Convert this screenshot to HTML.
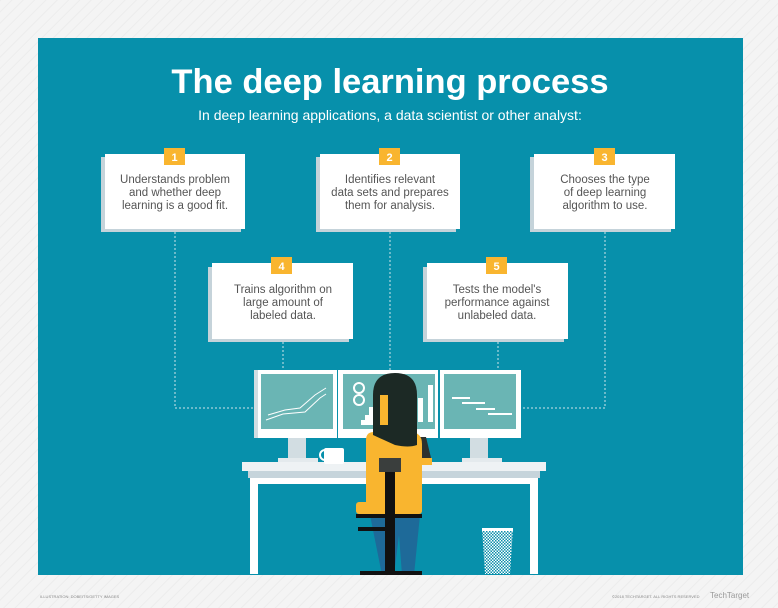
<!DOCTYPE html>
<html><head><style>
html,body{margin:0;padding:0;background:#f4f4f4;}
svg{display:block}
</style></head><body>
<svg width="778" height="608" viewBox="0 0 778 608" xmlns="http://www.w3.org/2000/svg" font-family="Liberation Sans, sans-serif">
<defs>
<pattern id="hat" width="8" height="8" patternUnits="userSpaceOnUse" patternTransform="rotate(45)">
<rect width="8" height="8" fill="#f4f4f4"/><rect width="1" height="8" fill="#ececec"/></pattern>
<pattern id="mesh" width="3" height="3" patternUnits="userSpaceOnUse"><rect width="3" height="3" fill="#fff"/><rect width="1.5" height="1.5" fill="#0b8fab"/><rect x="1.5" y="1.5" width="1.5" height="1.5" fill="#0b8fab"/></pattern>
</defs>
<rect width="778" height="608" fill="url(#hat)"/>
<rect x="38" y="38" width="705" height="537" fill="#0790ab"/>
<text x="390" y="93" text-anchor="middle" fill="#fff" font-size="34.5" font-weight="bold">The deep learning process</text>
<text x="390" y="120" text-anchor="middle" fill="#fff" font-size="14">In deep learning applications, a data scientist or other analyst:</text>

<g stroke="#cfe3ea" stroke-width="1" stroke-dasharray="2,2" fill="none">
<path d="M175 232V408H254"/>
<path d="M605 232V408H521"/>
<path d="M390 232V370"/>
<path d="M283 342V370"/>
<path d="M498 342V370"/>
</g>

<g font-size="11.5" fill="#555" text-anchor="middle">
<g>
<rect x="101" y="157" width="140" height="75" fill="#c5d3da"/><rect x="105" y="154" width="140" height="75" fill="#fff"/>
<rect x="164" y="148" width="21" height="17" fill="#f9b52f"/><text x="174.5" y="161" fill="#fff" font-size="11" font-weight="bold">1</text>
<text x="175" y="183">Understands problem</text><text x="175" y="196">and whether deep</text><text x="175" y="209">learning is a good fit.</text>
</g>
<g>
<rect x="316" y="157" width="140" height="75" fill="#c5d3da"/><rect x="320" y="154" width="140" height="75" fill="#fff"/>
<rect x="379" y="148" width="21" height="17" fill="#f9b52f"/><text x="389.5" y="161" fill="#fff" font-size="11" font-weight="bold">2</text>
<text x="390" y="183">Identifies relevant</text><text x="390" y="196">data sets and prepares</text><text x="390" y="209">them for analysis.</text>
</g>
<g>
<rect x="530" y="157" width="141" height="75" fill="#c5d3da"/><rect x="534" y="154" width="141" height="75" fill="#fff"/>
<rect x="594" y="148" width="21" height="17" fill="#f9b52f"/><text x="604.5" y="161" fill="#fff" font-size="11" font-weight="bold">3</text>
<text x="605" y="183">Chooses the type</text><text x="605" y="196">of deep learning</text><text x="605" y="209">algorithm to use.</text>
</g>
<g>
<rect x="208" y="267" width="141" height="75" fill="#c5d3da"/><rect x="212" y="263" width="141" height="76" fill="#fff"/>
<rect x="271" y="257" width="21" height="17" fill="#f9b52f"/><text x="281.5" y="270" fill="#fff" font-size="11" font-weight="bold">4</text>
<text x="283" y="293">Trains algorithm on</text><text x="283" y="306">large amount of</text><text x="283" y="319">labeled data.</text>
</g>
<g>
<rect x="423" y="267" width="141" height="75" fill="#c5d3da"/><rect x="427" y="263" width="141" height="76" fill="#fff"/>
<rect x="486" y="257" width="21" height="17" fill="#f9b52f"/><text x="496.5" y="270" fill="#fff" font-size="11" font-weight="bold">5</text>
<text x="497" y="293">Tests the model's</text><text x="497" y="306">performance against</text><text x="497" y="319">unlabeled data.</text>
</g>
</g>

<!-- monitors -->
<g>
<rect x="254" y="370" width="83" height="68" fill="#fff"/><rect x="254" y="370" width="4" height="68" fill="#d2dde2"/><rect x="261" y="374" width="72" height="55" fill="#6ab5b4"/>
<rect x="338" y="370" width="100" height="68" fill="#fff"/><rect x="343" y="374" width="92" height="55" fill="#6ab5b4"/>
<rect x="440" y="370" width="81" height="68" fill="#fff"/><rect x="444" y="374" width="72" height="55" fill="#6ab5b4"/>
<rect x="288" y="438" width="18" height="23" fill="#d2dde2"/><rect x="470" y="438" width="18" height="23" fill="#d2dde2"/>
<rect x="278" y="458" width="40" height="4" fill="#e4eaed"/><rect x="462" y="458" width="40" height="4" fill="#e4eaed"/>
<polyline points="268,415 285,410 300,408 315,395 326,388" stroke="#fff" fill="none"/>
<polyline points="266,420 283,414 305,412 320,398 326,394" stroke="#fff" fill="none"/>
<g stroke="#fff" stroke-width="2"><line x1="452" y1="398" x2="470" y2="398"/><line x1="462" y1="403" x2="485" y2="403"/><line x1="476" y1="409" x2="495" y2="409"/><line x1="488" y1="414" x2="512" y2="414"/></g>
<rect x="418" y="398" width="5" height="24" fill="#fff"/><rect x="428" y="385" width="5" height="37" fill="#fff"/>
<path d="M357 425h4v-5h4v-5h4v-8h4v18z" fill="#fff"/>
<circle cx="359" cy="388" r="5" fill="none" stroke="#fff" stroke-width="2"/><circle cx="359" cy="400" r="5" fill="none" stroke="#fff" stroke-width="2"/>
</g>
<!-- desk -->
<rect x="242" y="462" width="304" height="9" fill="#eef2f4"/>
<rect x="248" y="471" width="292" height="7" fill="#c6d4db"/>
<rect x="250" y="478" width="8" height="96" fill="#fff"/><rect x="530" y="478" width="8" height="96" fill="#fff"/>
<rect x="258" y="478" width="272" height="6" fill="#fff"/>
<!-- mug -->
<rect x="324" y="448" width="20" height="16" rx="2" fill="#fff"/><circle cx="325" cy="455" r="5" fill="none" stroke="#fff" stroke-width="2"/>
<!-- trash -->
<path d="M482 528h31l-3 46h-25z" fill="url(#mesh)"/><rect x="482" y="528" width="31" height="3" fill="#fff"/>
<!-- person -->
<path d="M374 437h20v40h-20z" fill="#2c302e"/>
<path d="M406 437h20l6 25h-12l-8-15z" fill="#2c302e"/>
<rect x="420" y="458" width="12" height="7" fill="#f9b52f"/>
<path d="M366 440q0-8 8-8h36q12 0 12 12v65h-56z" fill="#f9b52f"/>
<path d="M370 515h50l-6 60h-12l-3-40-5 40h-12z" fill="#1e6a99"/>
<path d="M373 435 v-40 q0-22 22-22 q22 0 22 22 v50 q-8 3-22 0z" fill="#1c2925"/>
<path d="M380 395h8v30h-8z" fill="#f9b52f"/>
<rect x="356" y="502" width="66" height="12" rx="3" fill="#f9b52f"/><rect x="356" y="514" width="66" height="4" fill="#111"/>
<rect x="379" y="458" width="22" height="14" fill="#3a3e3d"/>
<rect x="385" y="472" width="10" height="100" fill="#111"/>
<rect x="358" y="527" width="30" height="4" fill="#111"/>
<path d="M360 571h62v4h-62z" fill="#111"/>
<text x="40" y="598" font-size="4" fill="#888">ILLUSTRATION: DOBEITS/GETTY IMAGES</text>
<text x="612" y="598" font-size="4" fill="#888">©2018 TECHTARGET. ALL RIGHTS RESERVED</text>
<text x="710" y="598" font-size="8" fill="#999">TechTarget</text>
</svg>
</body></html>
